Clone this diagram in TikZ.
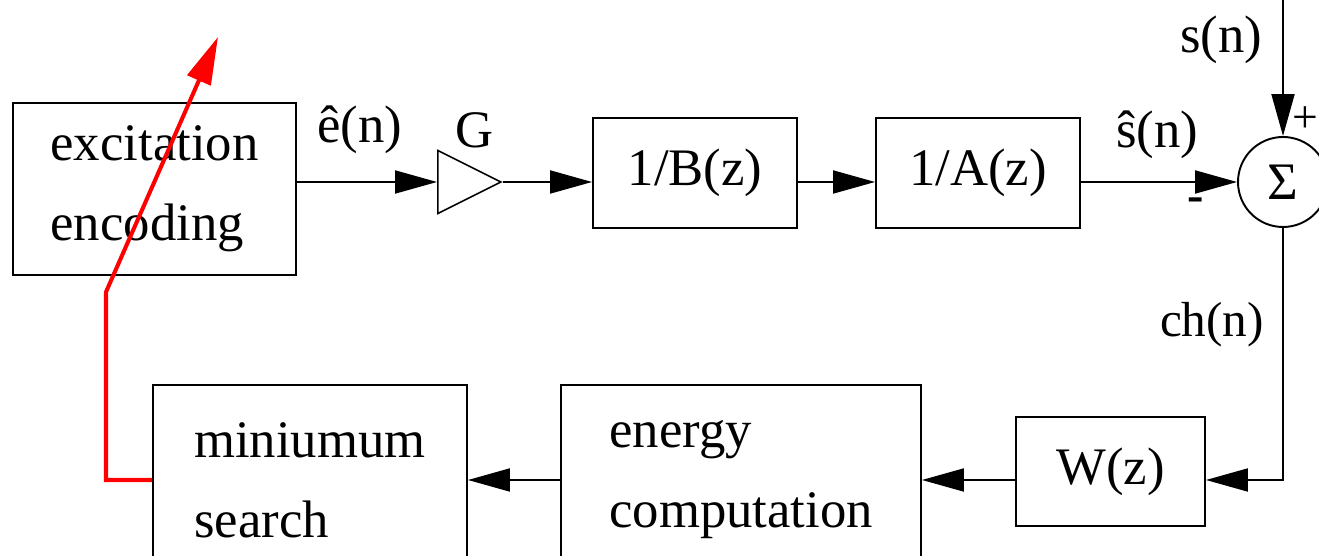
\documentclass[tikz,border=0pt]{standalone}
\usepackage{fontspec}
\setmainfont{Liberation Serif}
\usepackage{xcolor}
\usetikzlibrary{arrows.meta,shapes.geometric}
\definecolor{rojo}{HTML}{FF0000}

\begin{document}
\begin{tikzpicture}[
  font=\fontsize{30}{45.5}\selectfont,
  bloque/.style={draw, line width=1.1pt, align=left, inner sep=0pt},
  flecha/.style={-{Triangle[length=0.84cm, width=0.46cm]}, line width=1.1pt},
  etiq/.style={font=\fontsize{28}{34}\selectfont, inner sep=0pt}
]
  \clip (0,0) rectangle (26.38,11.12);
  % upper row
  \node[bloque, minimum width=5.66cm, minimum height=3.44cm] (exc) at (3.09,7.34) {excitation\\encoding};
  \node[draw, line width=0.9pt, isosceles triangle, isosceles triangle stretches, inner sep=0pt,
        minimum width=1.26cm, minimum height=1.26cm, anchor=west] (gain) at (8.74,7.48) {};
  \node[bloque, minimum width=4.08cm, minimum height=2.2cm] (binv) at (13.9,7.66) {1/B(z)};
  \node[bloque, minimum width=4.08cm, minimum height=2.2cm] (ainv) at (19.56,7.66) {1/A(z)};
  \node[draw, circle, line width=1.1pt, minimum size=1.8cm, inner sep=0pt] (suma) at (25.66,7.48) {Σ};
  \coordinate (sent) at (25.66,11.4);

  \draw[flecha] (exc.east |- gain.west) -- (gain.west);
  \draw[flecha] (gain.east) -- (binv.west |- gain.east);
  \draw[flecha] (binv.east |- gain.east) -- (ainv.west |- gain.east);
  \draw[flecha] (ainv.east |- gain.east) -- (suma.west);
  \draw[flecha] (sent) -- (suma.north);

  \node (ehat) at (7.2,8.52) {\^e(n)};
  \node (glab) at (9.5,8.52) {G};
  \node (shat) at (23.14,8.42) {\^s(n)};
  \node (slab) at (24.42,10.32) {s(n)};
  \node[etiq, font=\fontsize{26}{30}\selectfont] (mas) at (26.1,8.72) {+};
  \node[etiq, font=\fontsize{28}{34}\bfseries] (menos) at (23.92,7.02) {-};

  % lower row
  \node[bloque, minimum width=3.78cm, minimum height=2.18cm] (wz) at (22.21,1.69) {W(z)};
  \node[bloque, minimum width=7.2cm, minimum height=3.8cm] (ener) at (14.82,1.52) {energy\\computation};
  \node[bloque, minimum width=6.28cm, minimum height=3.8cm] (minb) at (6.2,1.52) {miniumum\\search};

  \draw[flecha] (suma.south) |- (wz.east |- ener.center);
  \draw[flecha] (wz.west |- ener.center) -- (ener.east);
  \draw[flecha] (ener.west) -- (minb.east);
  \node[etiq] (chlab) at (24.24,4.62) {ch(n)};

  % search loop
  \coordinate (codo) at (2.12,5.28);
  \coordinate (punta) at (4.36,10.38);
  \draw[rojo, line width=2.3pt, -{Triangle[length=0.95cm, width=0.5cm]}] (minb.west) -| (codo) -- (punta);
\end{tikzpicture}
\end{document}
